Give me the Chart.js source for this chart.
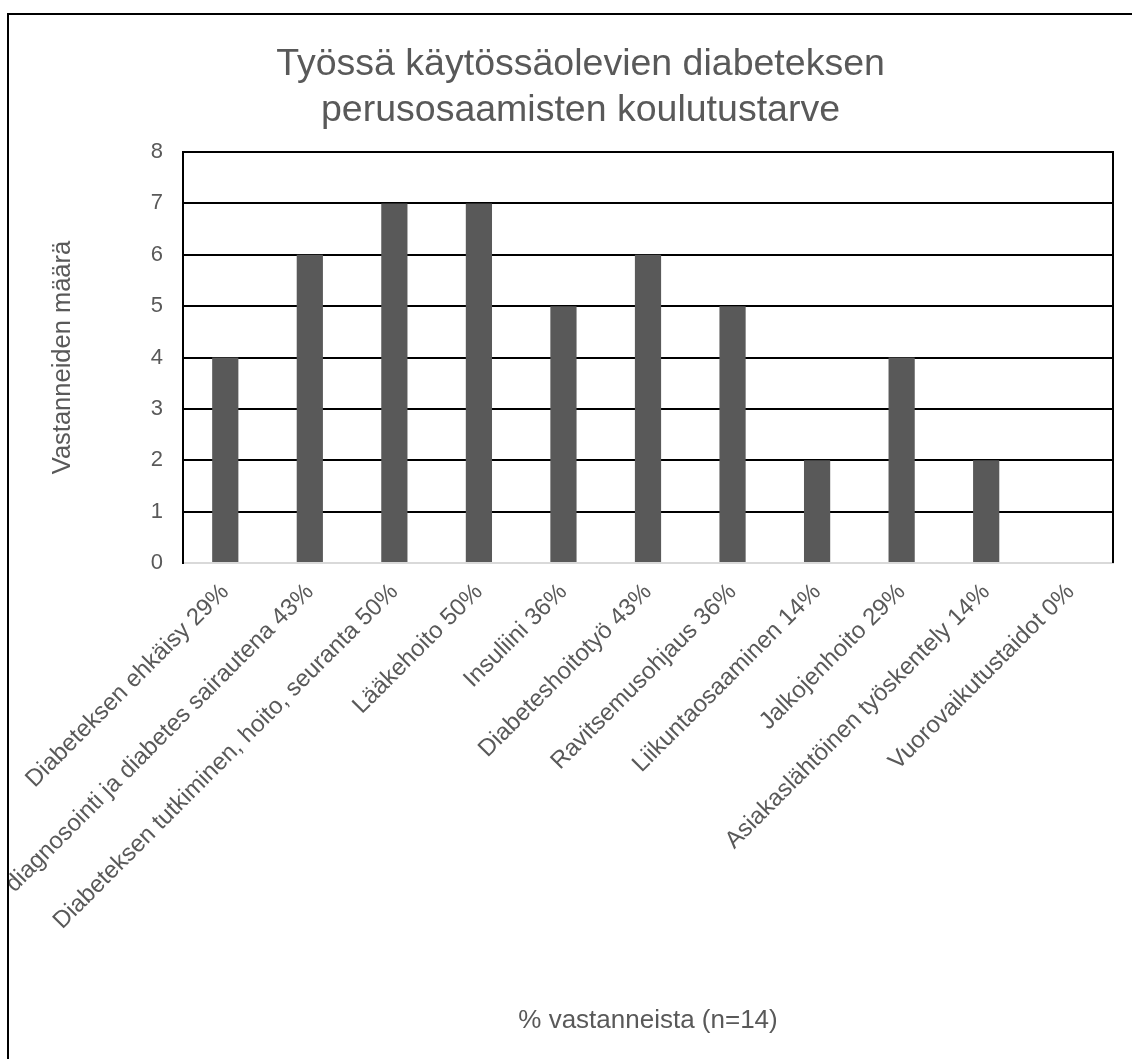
<!DOCTYPE html>
<html lang="fi">
<head>
<meta charset="utf-8">
<title>Diabeteksen perusosaamisten koulutustarve</title>
<script src="https://cdn.jsdelivr.net/npm/chart.js"></script>
<style>
  body { margin: 0; overflow: hidden; background: #fff; }
  /* chart frame: only left and top edges fall inside the window */
  #frame { position: absolute; left: 7px; top: 13px; width: 1160px; height: 1080px; border: 2px solid #000; overflow: hidden; }
  #chart { display: block; }
</style>
</head>
<body>
<div id="frame"><canvas id="chart" width="1123" height="1044"></canvas></div>

<script>
  const categories = [
    'Diabeteksen ehkäisy 29%',
    'Diabeteksen diagnosointi ja diabetes sairautena 43%',
    'Diabeteksen tutkiminen, hoito, seuranta 50%',
    'Lääkehoito 50%',
    'Insuliini 36%',
    'Diabeteshoitotyö 43%',
    'Ravitsemusohjaus 36%',
    'Liikuntaosaaminen 14%',
    'Jalkojenhoito 29%',
    'Asiakaslähtöinen työskentely 14%',
    'Vuorovaikutustaidot 0%'
  ];
  const counts = [4, 6, 7, 7, 5, 6, 5, 2, 4, 2, 0];
  const titleLines = ['Työssä käytössäolevien diabeteksen', 'perusosaamisten koulutustarve'];

  const FONT = "'Liberation Sans', Arial, sans-serif";
  const GREY = '#595959';

  // black line closing the plot area on the right
  const rightEdge = {
    id: 'rightEdge',
    afterDraw(chart) {
      const { ctx, chartArea: a } = chart;
      ctx.save();
      ctx.strokeStyle = '#000';
      ctx.lineWidth = 2;
      ctx.beginPath();
      ctx.moveTo(a.right, a.top - 1);
      ctx.lineTo(a.right, a.bottom);
      ctx.stroke();
      ctx.restore();
    }
  };

  new Chart(document.getElementById('chart'), {
    type: 'bar',
    data: {
      labels: categories,
      datasets: [{
        data: counts,
        backgroundColor: GREY,
        barPercentage: 0.31,
        categoryPercentage: 1
      }]
    },
    options: {
      responsive: false,
      animation: false,
      layout: { padding: { left: 39, right: 19, top: 0, bottom: 23 } },
      plugins: {
        legend: { display: false },
        tooltip: { enabled: false },
        title: {
          display: true,
          text: titleLines,
          color: GREY,
          font: { family: FONT, size: 37.5, weight: 'normal', lineHeight: 46 / 37.5 },
          padding: { top: 27, bottom: 18 }
        }
      },
      scales: {
        x: {
          grid: { display: false },
          border: { color: '#d9d9d9', width: 2 },
          ticks: {
            color: GREY,
            font: { family: FONT, size: 24 },
            minRotation: 45,
            maxRotation: 45,
            autoSkip: false,
            padding: 7,
            labelOffset: 0
          },
          title: {
            display: true,
            text: '% vastanneista (n=14)',
            color: GREY,
            font: { family: FONT, size: 26 },
            padding: 0
          },
          afterFit(scale) { scale.height = 473; }
        },
        y: {
          min: 0,
          max: 8,
          grid: {
            color: (ctx) => ctx.tick && ctx.tick.value === 0 ? '#d9d9d9' : '#000',
            lineWidth: 2,
            drawTicks: false
          },
          border: { color: '#000', width: 2 },
          ticks: {
            stepSize: 1,
            color: GREY,
            font: { family: FONT, size: 22 },
            padding: 20
          },
          title: {
            display: true,
            text: 'Vastanneiden määrä',
            color: GREY,
            font: { family: FONT, size: 25.5 },
            padding: 0
          },
          afterFit(scale) { scale.width = 135; }
        }
      }
    },
    plugins: [rightEdge]
  });
</script>
</body>
</html>
